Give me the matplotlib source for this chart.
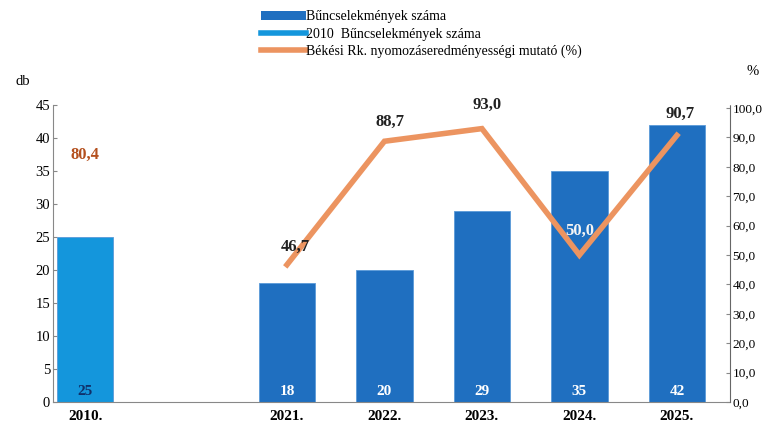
import matplotlib

matplotlib.use("Agg")
import matplotlib.pyplot as plt
from matplotlib.lines import Line2D
from matplotlib.patches import Patch

plt.rcParams["font.family"] = ["Liberation Serif", "DejaVu Serif"]

# data
YEARS = ["2010.", "2021.", "2022.", "2023.", "2024.", "2025."]
POSITIONS = [0, 2.07, 3.07, 4.07, 5.07, 6.07]
COUNTS = [25, 18, 20, 29, 35, 42]
RATE_YEARS = ["2021.", "2022.", "2023.", "2024.", "2025."]
RATES = [46.7, 88.7, 93.0, 50.0, 90.7]
RATE_2010 = 80.4

BAR_BLUE = "#1f6fc0"
BAR_2010 = "#1496dc"
LINE_ORANGE = "#ec9460"


def fmt(v: float) -> str:
    return f"{v:.1f}".replace(".", ",")


fig = plt.figure(figsize=(7.65, 4.26), dpi=100)
ax = fig.add_axes([0.0693, 0.0563, 0.8856, 0.697])
ax2 = ax.twinx()

colors = [BAR_2010] + [BAR_BLUE] * (len(COUNTS) - 1)
ax.bar(POSITIONS, COUNTS, width=0.58, color=colors, edgecolor="#5a9ad8",
       linewidth=0.6, zorder=2)
for x, v, c in zip(POSITIONS, COUNTS, colors):
    tc = "#10306a" if c == BAR_2010 else "white"
    ax.text(x, 0.6, str(v), ha="center", va="bottom", color=tc,
            fontsize=11, fontweight="bold", zorder=4)

ax.set_xlim(-0.33, 6.62)
ax.set_ylim(0, 45)
ax.set_yticks(range(0, 46, 5))
ax.set_xticks(POSITIONS)
ax.set_xticklabels(YEARS, fontweight="bold", fontsize=11)
ax.tick_params(axis="x", length=0, pad=6)
ax.tick_params(axis="y", direction="in", length=3, labelsize=10.5,
               color="#888888", pad=2)
for s in ("top", "right"):
    ax.spines[s].set_visible(False)
ax.spines["left"].set_color("#888888")
ax.spines["bottom"].set_color("#888888")

rate_x = POSITIONS[1:]
ax2.plot(rate_x, RATES, color=LINE_ORANGE, lw=4, solid_joinstyle="miter",
         zorder=3)
ax2.set_ylim(0, 101)
ax2.set_yticks(range(0, 101, 10))
ax2.set_yticklabels([fmt(v) for v in range(0, 101, 10)])
ax2.tick_params(axis="y", direction="in", length=3, labelsize=9.5,
                color="#888888", pad=1.5)
for s in ("top", "left", "bottom"):
    ax2.spines[s].set_visible(False)
ax2.spines["right"].set_linestyle((0, (1, 1)))
ax2.spines["right"].set_color("#666666")

label_offsets = [(0.09, 3.5), (0.06, 3.8), (0.05, 5.5), (0.0, 5.5), (0.03, 4.5)]
label_colors = ["#222222", "#222222", "#222222", "#f4f4f4", "#222222"]
for x, v, (dx, dy), c in zip(rate_x, RATES, label_offsets, label_colors):
    ax2.text(x + dx, v + dy, fmt(v), ha="center", va="bottom", color=c,
             fontsize=12, fontweight="bold", zorder=5)
ax2.text(POSITIONS[0], 81.5, fmt(RATE_2010), ha="center", va="bottom",
         color="#b4501e", fontsize=12, fontweight="bold")

fig.text(0.02, 0.80, "db", fontsize=10.5)
fig.text(0.976, 0.825, "%", fontsize=10.5)

handles = [
    Patch(facecolor=BAR_BLUE, edgecolor="none"),
    Line2D([0], [0], color=BAR_2010, lw=4),
    Line2D([0], [0], color=LINE_ORANGE, lw=4),
]
labels = [
    "Bűncselekmények száma",
    "2010  Bűncselekmények száma",
    "Békési Rk. nyomozáseredményességi mutató (%)",
]
fig.legend(handles, labels, loc="upper left", bbox_to_anchor=(0.325, 1.005),
           frameon=False, fontsize=10, handlelength=3.2, handletextpad=0.05,
           labelspacing=0.3, handleheight=0.6)

fig.savefig("out.png", dpi=100)
